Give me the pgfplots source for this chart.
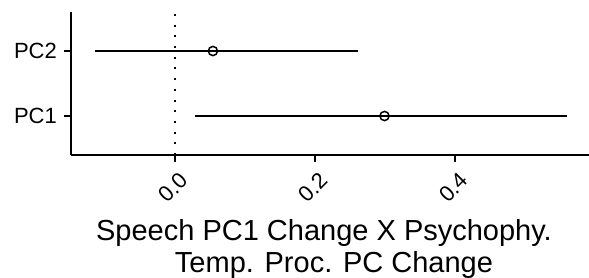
\documentclass[border=0pt]{standalone}
\usepackage{pgfplots}
\pgfplotsset{compat=1.18}
\usepackage{fontspec}
\setmainfont{Liberation Sans}
\begin{document}
\begin{tikzpicture}[x=1pt,y=1pt]
\path[use as bounding box] (-71,-122) rectangle (518,155);
\begin{axis}[
  at={(0,0)}, anchor=south west,
  scale only axis, width=518pt, height=143pt,
  xmin=-0.1486, xmax=0.591, ymin=0.4, ymax=2.6,
  axis lines=left,
  axis line style={line width=1.8pt, -},
  every tick/.style={black, line width=1.8pt},
  tick align=outside, major tick length=7pt,
  xtick={0,0.2,0.4},
  xticklabels={0.0,0.2,0.4},
  ytick={1,2}, yticklabels={PC1,PC2},
  /pgf/number format/assume math mode=true,
  xticklabel style={rotate=45, anchor=north east, font=\fontsize{22}{24}\selectfont, inner sep=1pt, xshift=-3pt, yshift=-8pt},
  yticklabel style={font=\fontsize{22}{24}\selectfont, inner sep=2pt, xshift=-5pt},
  xlabel={Speech PC1 Change X Psychophy.\\\hspace*{20pt}Temp. Proc. PC Change},
  xlabel style={font=\fontsize{29}{32}\selectfont, align=center, inner sep=0pt, at={(axis description cs:0.4884,0)}, anchor=north, yshift=-64pt},
  clip=false,
]
\addplot[black, line width=1.2pt, dash pattern=on 2pt off 8.7pt] coordinates {(0,0.4) (0,2.6)};
\addplot[black, line width=1.8pt] coordinates {(-0.114,2) (0.261,2)};
\addplot[black, line width=1.8pt] coordinates {(0.029,1) (0.559,1)};
\addplot[only marks, mark=o, mark size=4.6pt, black, line width=1.5pt] coordinates {(0.054,2) (0.299,1)};
\end{axis}
\end{tikzpicture}
\end{document}
